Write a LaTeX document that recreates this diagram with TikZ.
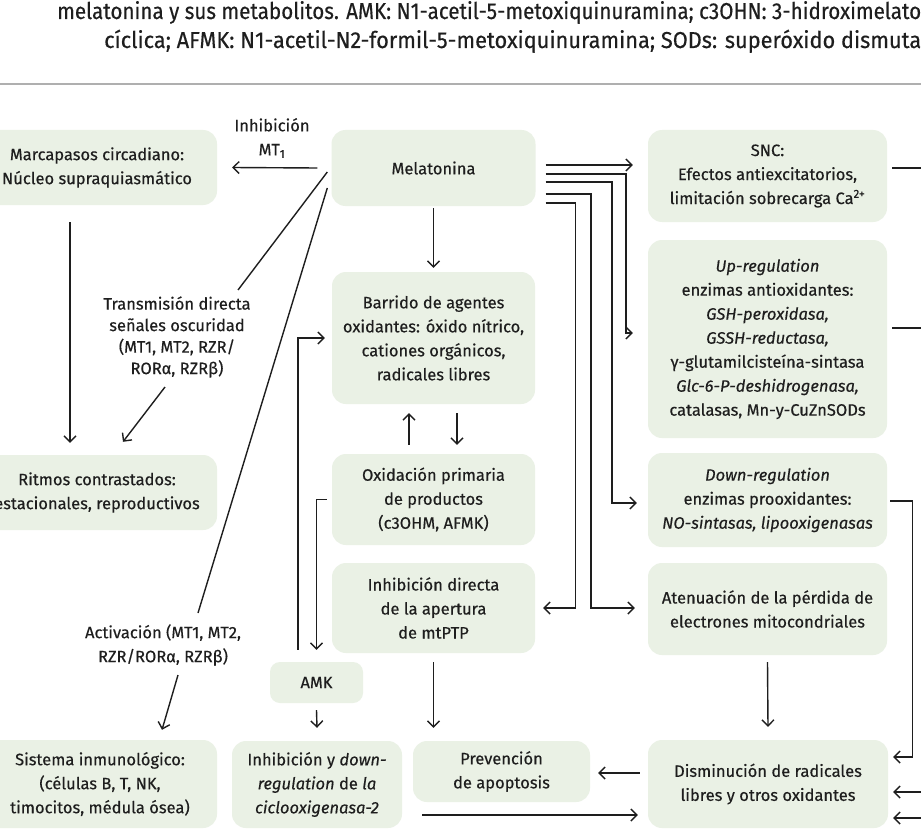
\documentclass[tikz,border=0pt]{standalone}
\usepackage{fontspec}
\setmainfont{Fira Sans}[FakeBold=0.4]
\usepackage{graphicx}
\usetikzlibrary{arrows.meta,calc}
\definecolor{boxfill}{RGB}{234,241,229}
\definecolor{rulegray}{RGB}{175,175,175}
\definecolor{ink}{RGB}{30,30,30}
\begin{document}
\begin{tikzpicture}[x=1pt,y=-1pt,
  box/.style={draw=none, fill=boxfill, rounded corners=14pt, align=center, inner sep=0pt,
    text=ink, font=\fontsize{16.5}{24}\selectfont},
  lbl/.style={align=center, inner sep=0pt, text=ink, font=\fontsize{16.5}{24}\selectfont},
  arr/.style={-{Straight Barb[length=6pt,width=12pt]}, line width=1.4pt, draw=ink},
  ln/.style={line width=1.4pt, draw=ink}]
\useasboundingbox (0,0) rectangle (921,832);
\fill[white] (0,0) rectangle (921,832);

% caption
\node[anchor=base west, inner sep=0pt, text=ink] (cap1) at (57,19) {\resizebox{864pt}{\height}{\fontsize{23}{27}\selectfont melatonina y sus metabolitos. AMK: N1-acetil-5-metoxiquinuramina; c3OHN: 3-hidroximelato}};
\node[anchor=base west, inner sep=0pt, text=ink] (cap2) at (104,48) {\resizebox{817pt}{\height}{\fontsize{23}{27}\selectfont cíclica; AFMK: N1-acetil-N2-formil-5-metoxiquinuramina; SODs: superóxido dismuta}};
\coordinate (r1) at (0,84);
\coordinate (r2) at (921,84);
\draw[rulegray, line width=2pt] (r1) -- (r2);

% boxes
\node[box, minimum width=240pt, minimum height=75pt] (marc) at (97,167.5) {Marcapasos circadiano:\\Núcleo supraquiasmático};
\node[box, minimum width=204pt, minimum height=76pt] (mel) at (433.5,168) {Melatonina};
\node[box, minimum width=239pt, minimum height=92pt] (snc) at (767.5,176) {SNC:\\Efectos antiexcitatorios,\\limitación sobrecarga Ca\textsuperscript{2+}};
\node[box, minimum width=203pt, minimum height=132pt] (barr) at (433.5,338) {Barrido de agentes\\oxidantes: óxido nítrico,\\cationes orgánicos,\\radicales libres};
\node[box, minimum width=239pt, minimum height=198pt] (up) at (767.5,339) {\textit{Up-regulation}\\enzimas antioxidantes:\\\textit{GSH-peroxidasa,}\\\textit{GSSH-reductasa,}\\γ-glutamilcisteína-sintasa\\\textit{Glc-6-P-deshidrogenasa,}\\catalasas, Mn-y-CuZnSODs};
\node[box, minimum width=240pt, minimum height=75pt] (ritm) at (97,492.5) {Ritmos contrastados:\\estacionales, reproductivos};
\node[box, minimum width=203pt, minimum height=91pt] (oxid) at (433.5,499.5) {Oxidación primaria\\de productos\\(c3OHM, AFMK)};
\node[box, minimum width=239pt, minimum height=94pt] (down) at (767.5,500) {\textit{Down-regulation}\\enzimas prooxidantes:\\\textit{NO-sintasas, lipooxigenasas}};
\node[box, minimum width=203pt, minimum height=90pt] (inhd) at (433.5,608) {Inhibición directa\\de la apertura\\de mtPTP};
\node[box, minimum width=239pt, minimum height=92pt] (aten) at (767.5,609) {Atenuación de la pérdida de\\electrones mitocondriales};
\node[box, minimum width=93pt, minimum height=41pt, rounded corners=10pt] (amk) at (316.5,682.5) {AMK};
\node[box, minimum width=234pt, minimum height=88pt] (sist) at (100,784) {Sistema inmunológico:\\(células B, T, NK,\\timocitos, médula ósea)};
\node[box, minimum width=170pt, minimum height=87pt] (cox) at (317,784.5) {Inhibición y \textit{down-}\\\textit{regulation} de \textit{la}\\\textit{ciclooxigenasa-2}};
\node[box, minimum width=177pt, minimum height=61pt] (prev) at (501.5,771.5) {Prevención\\de apoptosis};
\node[box, minimum width=240pt, minimum height=88pt] (dism) at (768,784) {Disminución de radicales\\libres y otros oxidantes};

% labels
\node[lbl] (inhl) at (272,138) {Inhibición\\MT\textsubscript{1}};
\node[lbl, font=\fontsize{16.5}{21.5}\selectfont] (trans) at (177,337) {Transmisión directa\\señales oscuridad\\(MT1, MT2, RZR/\\RORα, RZRβ)};
\node[lbl] (act) at (163,645) {Activación (MT1, MT2,\\RZR/RORα, RZRβ)};

% connectors, left part
\draw[arr] ([xshift=-14]mel.west) -- ([xshift=15]marc.east);
\draw[ln] ([xshift=-4,yshift=-4]mel.west) -- ([xshift=61,yshift=47]trans.center);
\draw[arr] ([xshift=-12,yshift=-50]trans.center) -- ([xshift=26,yshift=13]ritm.north);
\draw[ln] ([xshift=-4,yshift=-20]mel.west) -- ([xshift=35,yshift=32]act.center);
\draw[arr] ([xshift=15,yshift=-30]act.center) -- ([xshift=62,yshift=10]sist.north);
\draw[arr] ([xshift=-27,yshift=-17]marc.south) -- ([xshift=-27,yshift=12]ritm.north);

% center column
\draw[arr] ([yshift=-2]mel.south) -- ([yshift=4]barr.north);
\draw[arr] ([xshift=-24.5,yshift=9]oxid.north) -- ([xshift=-24.5,yshift=-9]barr.south);
\draw[arr] ([xshift=23.5,yshift=-9]barr.south) -- ([xshift=23.5,yshift=9]oxid.north);
\draw[arr] ([xshift=-5]oxid.west) -| ([yshift=12]amk.north);
\draw[arr] ([xshift=-18.5,yshift=12]amk.north) |- ([xshift=-7]barr.west);
\draw[arr] ([yshift=-7]amk.south) -- ([yshift=13]cox.north);
\draw[arr] ([yshift=-9]inhd.south) -- ([yshift=13]inhd.south |- prev.north);

% melatonina to the right
\draw[arr] ([xshift=10,yshift=3]mel.east) -- ([xshift=-15,yshift=11]snc.west);
\draw[arr] ([xshift=10,yshift=-6]mel.east) -| ([xshift=-22,yshift=6]up.west) -- ([xshift=-15,yshift=6]up.west);
\draw[arr] ([xshift=10,yshift=-14]mel.east) -| ([xshift=-36,yshift=-3]down.west) -- ([xshift=-11,yshift=-3]down.west);
\draw[arr] ([xshift=10,yshift=-26]mel.east) -| ([xshift=-57,yshift=1]aten.west) -- ([xshift=-13,yshift=1]aten.west);
\draw[arr] ([xshift=10,yshift=-35]mel.east) -| ([xshift=40]inhd.east) -- ([xshift=8]inhd.east);

% right column
\draw[arr] ([yshift=-7]aten.south) -- ([yshift=13]dism.north);
\draw[arr] ([xshift=-8,yshift=11]dism.west) -- ([xshift=8,yshift=-1.5]prev.east);
\draw[arr] ([xshift=20,yshift=-30.5]cox.east) -- ([xshift=-10,yshift=-31]dism.west);
\coordinate (o1) at (925,168);
\coordinate (o2) at (925,328);
\draw[ln] ([xshift=5,yshift=8]snc.east) -- (o1);
\draw[ln] ([xshift=5,yshift=11]up.east) -- (o2);
\draw[arr] ([xshift=3,yshift=-1]down.east) -| ([xshift=24,yshift=27]dism.east) -- ([xshift=5,yshift=27]dism.east);
\coordinate (i1) at (925,792);
\coordinate (i2) at (925,818);
\draw[arr] (i1) -- ([xshift=5,yshift=-8]dism.east);
\draw[arr] (i2) -- ([xshift=5,yshift=-34]dism.east);
\end{tikzpicture}
\end{document}
